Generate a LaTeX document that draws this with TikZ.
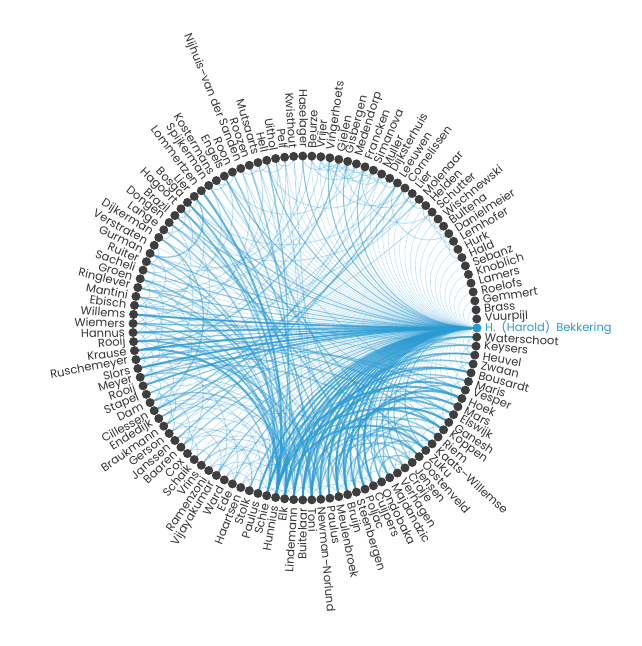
\documentclass[tikz,border=0pt]{standalone}
\usepackage{fontspec}
\setmainfont{Poppins}
\usetikzlibrary{backgrounds}
\definecolor{cb}{RGB}{42,154,210}
\definecolor{dotc}{RGB}{62,62,62}
\definecolor{txt}{RGB}{50,50,50}
\newcommand\mychord[3]{%
  \pgfmathsetmacro\myaA{(#1-1)*3.0252101}%
  \pgfmathsetmacro\myaB{(#2-1)*3.0252101}%
  \pgfmathsetmacro\mysd{abs(sin((\myaB-\myaA)/2))}%
  \pgfmathsetmacro\myrc{172*(3-\mysd)/(3*(1+\mysd))}%
  \draw[#3] (n#1.center) .. controls (\myaA:\myrc) and (\myaB:\myrc) .. (n#2.center);%
}
\begin{document}
\begin{tikzpicture}[x=1pt,y=1pt,
  dotn/.style={circle,fill=dotc,minimum size=9pt,inner sep=0pt},
  lbl/.style={inner sep=0pt,text=txt,font=\fontsize{11.5}{13}\selectfont},
  b1/.style={draw=cb,opacity=.28,line width=.6pt},
  b2/.style={draw=cb,opacity=.45,line width=1.1pt},
  b3/.style={draw=cb,opacity=.75,line width=1.8pt},
  c1/.style={draw=cb,opacity=.32,line width=.9pt},
  c2/.style={draw=cb,opacity=.5,line width=1.4pt},
  c3/.style={draw=cb,opacity=.75,line width=2pt}]
\useasboundingbox (-305,-318) rectangle (337,328);
% focus node
\node[dotn,fill=cb] (n1) at (0:172) {};
\node[lbl,anchor=west,text=cb] (l1) at (0:180) {H.\ \ (Harold)\ \ Bekkering};
% other nodes
\foreach \name [count=\k from 2] in {Vuurpijl,Brass,Gemmert,Roelofs,Lamers,Knoblich,Sebanz,Hald,Hurk,Lemhofer,Danielmeier,Bultena,Wischnewski,Schutter,Helden,Molenaar,Lier,Cornelissen,Leeuwen,Dijksterhuis,Muller,Simanova,Francken,Medendorp,Gisbergen,Gielen,Vingerhoets,Vrijer,Beurze,Haselager,Kwisthout,Pelf,Uithol,Hell,Mutsaarts,Roozen,Nijhuis–van der Sanden,Roon,Engels,Kostermans,Spijkerman,Lommertzen,Lier,Bosga,Hagoort,Brazil,Dongen,Lange,Dijkerman,Verstraten,Gurman,Ruiter,Sacheli,Groen,Ringlever,Mantini,Ebisch,Willems,Wiemers,Hannus,Rooij,Krause,Ruschemeyer,Slors,Meyer,Rooij,Stapel,Dam,Cillessen,Endedijk,Braukmann,Gerson,Janssen,Baaren,Cox,Schaik,Vrins,Ramenzoni,Vijayakumar,Ward,Ede,Haartsen,Stolk,Paulus,Schie,Hunnius,Elk,Lindemann,Buitelaar,Toni,Newman–Norlund,Paulus,Meulenbroek,Bruijn,Steenbergen,Poljac,Cuijpers,Ondobaka,Majdandzic,Verhagen,Croije,Jensen,Oostenveld,Zuku,Kaats–Willemse,Riem,Koppen,Ganesh,Elswijk,Mars,Hoek,Vesper,Maris,Bousardt,Zwaan,Heuvel,Keysers,Waterschoot}{
  \pgfmathsetmacro\ang{(\k-1)*3.0252101}
  \pgfmathtruncatemacro\isleft{(\ang>90)&&(\ang<270)}
  \node[dotn] (n\k) at (\ang:172) {};
  \ifnum\isleft=1
    \pgfmathsetmacro\rot{\ang-180}
    \node[lbl,anchor=east,rotate=\rot] (l\k) at (\ang:180) {\name};
  \else
    \node[lbl,anchor=west,rotate=\ang] (l\k) at (\ang:180) {\name};
  \fi
}
\begin{pgfonlayer}{background}
% Bekkering fan
\foreach \j in {2,...,119} {\mychord{1}{\j}{b1}}
\foreach \j in {56,58,59,60,62,63,64,65,66,68,70,72,75,78,80,82,84,99,100,101,102,103,105,24,26,28,31,35,40,45,47,52,54} {\mychord{1}{\j}{b2}}
\foreach \j in {85,86,87,88,89,90,91,92,93,94,95,96,97,98,63,65,59,61,67} {\mychord{1}{\j}{b3}}
% other chords
\foreach \i/\j/\w in {86/110/2,87/112/3,87/116/2,88/105/3,88/118/2,89/107/2,90/113/3,91/104/2,91/109/3,92/115/2,93/106/2,94/111/3,95/117/2,96/108/2,97/114/2,98/119/2,99/103/2,100/110/2,87/108/3,88/114/2,91/117/2,92/103/2,94/106/2,95/112/3,89/119/2,86/115/2,90/104/2,93/118/2,97/107/2,85/111/2,84/116/1,96/102/2,98/105/2,99/113/2,87/106/2,88/110/2,89/115/3,90/117/2,92/109/2,94/119/2,95/104/2,
87/60/2,87/63/3,88/59/2,86/66/2,89/70/1,91/55/2,92/64/2,94/58/1,95/72/1,88/75/1,87/78/1,86/80/1,85/69/1,90/62/2,93/57/1,96/65/1,97/71/1,84/74/1,87/52/2,88/54/1,91/68/1,89/77/1,87/56/2,88/62/2,86/58/1,
53/88/2,55/87/1,57/91/2,61/87/2,64/88/1,67/92/1,69/89/2,71/87/1,73/88/1,77/91/1,79/89/1,81/88/1,83/91/1,
35/87/2,37/88/2,40/91/2,43/87/3,45/92/2,46/88/2,47/94/2,38/95/1,42/89/2,33/90/1,49/86/2,44/97/1,36/93/1,45/87/2,46/86/2,
44/104/2,46/108/1,41/112/1,39/100/2,34/96/1,32/92/1,48/98/2,50/101/1,
70/20/2,72/22/1,74/19/2,66/24/1,63/27/2,60/17/1,68/15/1,56/29/1,64/21/1,71/18/2,73/23/1,56/34/1,58/31/1,62/28/1,52/26/1,
63/110/2,64/113/2,65/108/2,59/115/1,66/105/2,60/118/1,62/112/2,58/109/1,
55/62/1,57/64/1,60/66/1,52/58/1,66/72/1,69/75/1,62/70/1,73/80/1,18/26/1,15/24/1,19/28/1,12/20/1,
22/24/1,23/25/1,24/26/1,25/27/1,24/28/1,26/28/1,26/29/1,27/30/1,25/30/1,28/31/1,21/23/1,20/22/1,13/15/1,12/14/1,14/16/1,11/13/1,9/11/1,10/12/1,16/18/1,17/19/1,32/34/1,33/36/1,35/37/1,36/38/1,39/41/1,40/42/1,44/46/1,45/47/1,46/49/1,48/50/1,51/53/1,53/56/1,55/58/1,57/60/1,58/61/1,59/62/1,61/64/1,62/66/1,63/65/1,64/67/1,65/69/1,67/70/1,68/72/1,70/73/1,72/76/1,74/77/1,76/79/1,79/82/1,81/84/1,83/86/1,85/87/1,87/89/1,86/88/1,88/91/1,89/92/1,91/94/1,92/95/1,94/97/1,95/98/1,97/100/1,100/102/1,101/104/1,103/106/1,105/108/1,107/110/1,109/112/1,111/114/1,113/116/1,115/118/1,117/119/1,23/27/1,22/26/1,27/29/1,
48/17/1,45/20/1,40/25/1,35/22/1,55/40/1,58/45/1,60/48/1,65/50/1,70/55/1,75/60/1,80/65/1,82/70/1,84/75/1,78/88/1,82/92/1,80/96/1,76/100/1,86/104/1,90/110/1,52/44/2,54/46/1,57/42/1,61/38/1,63/33/1,67/47/1,69/50/2,53/30/1,59/36/1}
  {\mychord{\i}{\j}{c\w}}
\end{pgfonlayer}
\end{tikzpicture}
\end{document}
